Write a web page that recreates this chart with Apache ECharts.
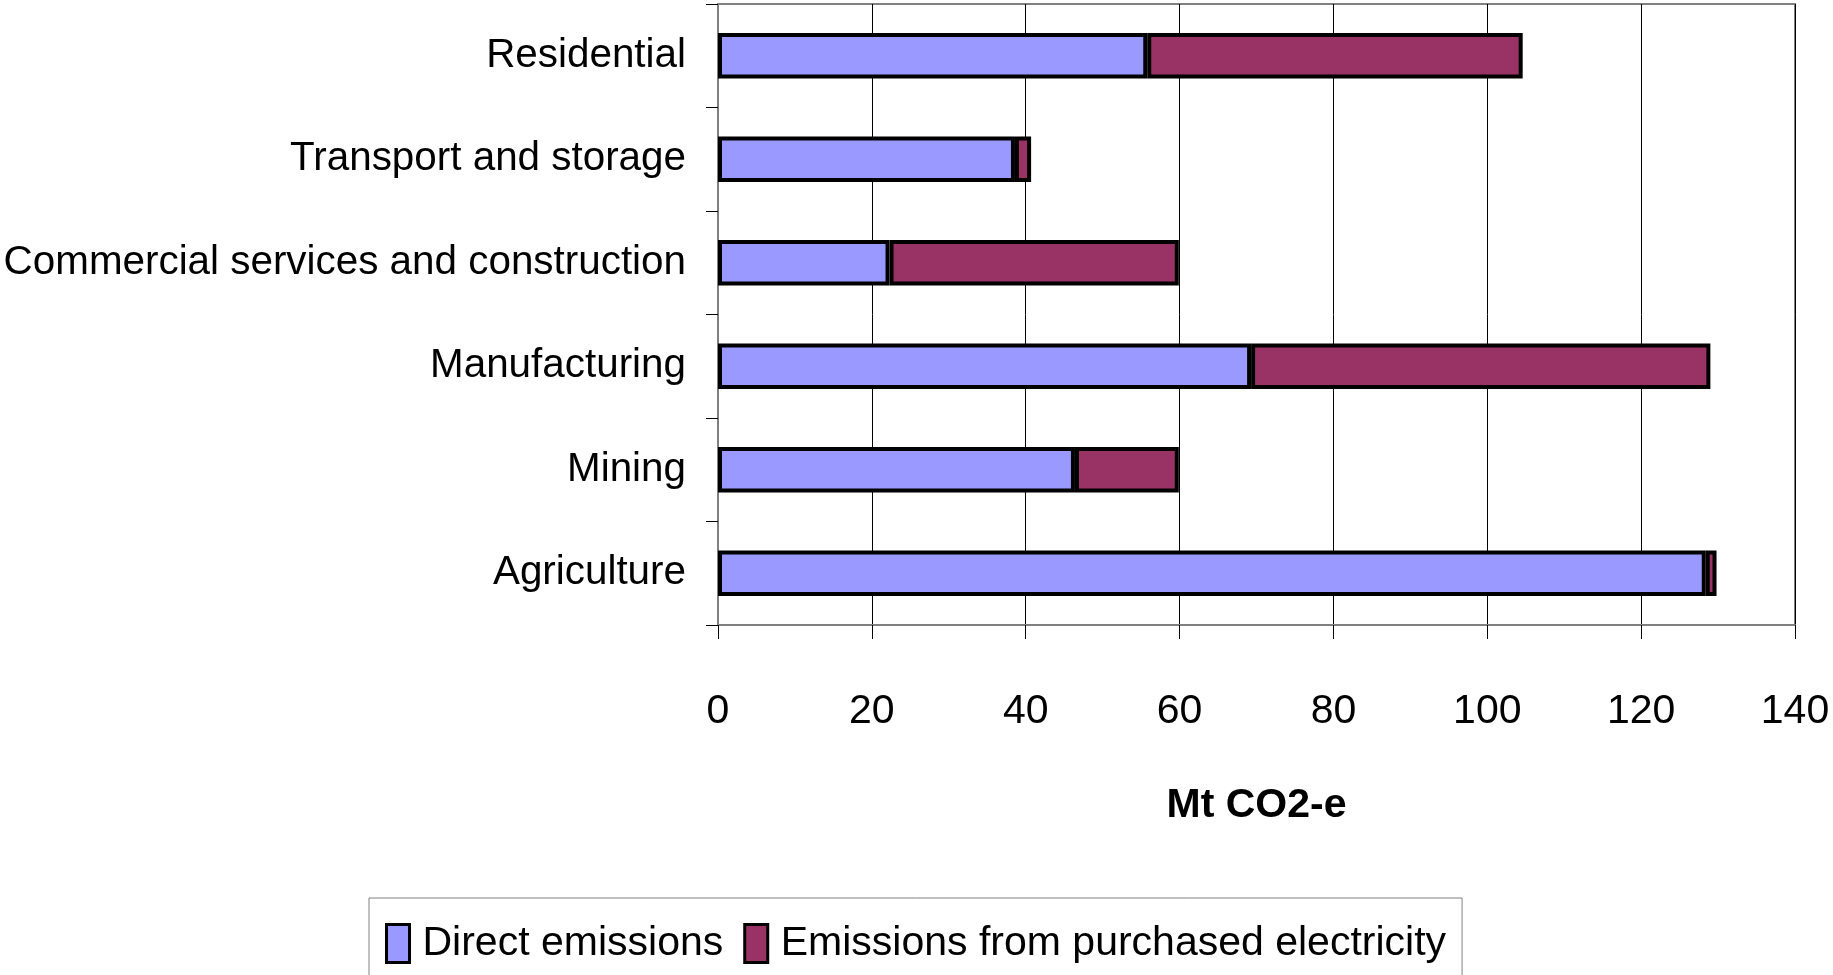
<!DOCTYPE html>
<html>
<head>
<meta charset="utf-8">
<script src="https://cdn.jsdelivr.net/npm/echarts@6/dist/echarts.min.js"></script>
<style>
  html, body { margin: 0; padding: 0; background: #fff; }
  #chart { width: 1833px; height: 975px; }
</style>
</head>
<body>
<div id="chart"></div>
<script>
// categories listed bottom to top (category axis draws first item at the bottom)
var sectors = ['Agriculture', 'Mining', 'Manufacturing', 'Commercial services and construction', 'Transport and storage', 'Residential'];
var directEmissions = [128.4, 46.4, 69.3, 22.3, 38.6, 55.8];
var electricityEmissions = [1.4, 13.5, 59.7, 37.6, 2.1, 48.8];
var xTicks = [0, 140, 20];

var font = '"Liberation Sans", Arial, sans-serif';

var chart = echarts.init(document.getElementById('chart'));
var option = {
  animation: false,
  grid: {
    left: 718,
    right: 38,
    top: 4,
    bottom: 350,
    outerBoundsMode: 'none',
    show: true,
    borderColor: '#808080',
    borderWidth: 2
  },
  legend: {
    left: 369,
    top: 898,
    padding: [25, 16, 40, 16],
    borderColor: '#808080',
    borderWidth: 1,
    icon: 'rect',
    itemWidth: 23,
    itemHeight: 38,
    itemGap: 20,
    itemStyle: { borderColor: '#000', borderWidth: 3 },
    textStyle: { fontFamily: font, fontSize: 41, color: '#000', padding: [0, 0, 0, 8] },
    data: ['Direct emissions', 'Emissions from purchased electricity']
  },
  xAxis: {
    type: 'value',
    min: xTicks[0],
    max: xTicks[1],
    interval: xTicks[2],
    name: 'Mt CO2-e',
    nameLocation: 'middle',
    nameGap: 160,
    nameTextStyle: { fontFamily: font, fontSize: 41, fontWeight: 'bold', color: '#000' },
    axisLine: { show: true, lineStyle: { color: '#808080', width: 2 } },
    axisTick: { show: true, length: 14, lineStyle: { color: '#000', width: 1 } },
    axisLabel: { margin: 66, fontFamily: font, fontSize: 41, color: '#000' },
    splitLine: { show: true, lineStyle: { color: '#000', width: 1 } }
  },
  yAxis: {
    type: 'category',
    data: sectors,
    axisLine: { show: true, lineStyle: { color: '#808080', width: 2 } },
    axisTick: { show: true, length: 12, lineStyle: { color: '#000', width: 1 } },
    axisLabel: { margin: 32, fontFamily: font, fontSize: 40.4, color: '#000' }
  },
  series: [
    {
      name: 'Direct emissions',
      type: 'bar',
      stack: 'total',
      barCategoryGap: '56%',
      data: directEmissions,
      itemStyle: { color: '#9999FF', borderColor: '#000', borderWidth: 4 }
    },
    {
      name: 'Emissions from purchased electricity',
      type: 'bar',
      stack: 'total',
      barCategoryGap: '56%',
      data: electricityEmissions,
      itemStyle: { color: '#993366', borderColor: '#000', borderWidth: 4 }
    }
  ]
};
chart.setOption(option);
</script>
</body>
</html>
